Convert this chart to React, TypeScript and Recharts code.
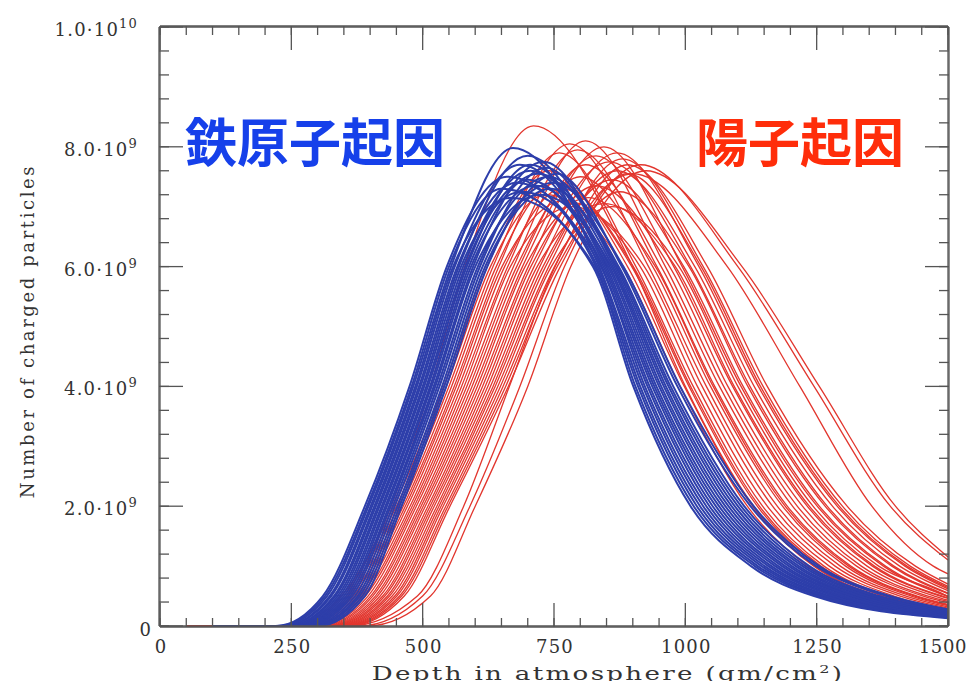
import React from 'react';
import { LineChart, Line, XAxis, YAxis } from 'recharts';

// Depth (gm/cm2) where each shower starts, and the particle levels (x 1e9)
const RED_START = 50;
const BLUE_START = 100;
const RISE_LEVELS = [0, 0.5, 2, 4, 6];
const FALL_LEVELS = [6, 4, 2, 1, 0.5];
const LAST_DEPTH = 1500;

const X_MAJOR = [0, 250, 500, 750, 1000, 1250, 1500];
const Y_MAJOR = [0, 2, 4, 6, 8, 10];
const X_MINOR = Array.from({ length: 31 }, (_, i) => i * 50);
const Y_MINOR = Array.from({ length: 26 }, (_, i) => (i * 4) / 10);

// iron showers (blue): rising crossings, peak, falling crossings, value at 1500
const BLUE_LIFT = [220, 224, 228, 233, 236, 241, 244, 248, 252, 256, 260, 264, 268, 272, 276, 281, 286, 290, 295, 300];
const BLUE_R05 = [310, 314, 318, 323, 326, 331, 334, 338, 342, 346, 350, 354, 358, 362, 366, 371, 376, 380, 385, 390];
const BLUE_R2 = [390, 394, 397, 401, 404, 408, 411, 415, 418, 422, 425, 429, 432, 436, 439, 443, 447, 452, 456, 460];
const BLUE_R4 = [475, 479, 482, 486, 489, 493, 496, 500, 503, 507, 510, 514, 517, 521, 524, 528, 532, 537, 541, 545];
const BLUE_R6 = [546, 550, 554, 558, 561, 566, 569, 573, 577, 581, 584, 588, 592, 596, 600, 605, 609, 614, 619, 623];
const BLUE_PEAK_D = [660, 650, 672, 668, 685, 678, 700, 688, 705, 700, 705, 720, 715, 730, 725, 740, 735, 750, 745, 755];
const BLUE_PEAK_N = [7.5, 7.3, 7.98, 7.15, 7.7, 7.4, 7.85, 7.25, 7.6, 7.45, 7.7, 7.55, 7.35, 7.75, 7.2, 7.5, 7.65, 7.4, 7.3, 7.55];
const BLUE_F6 = [830, 824, 836, 827, 841, 833, 850, 839, 856, 844, 847, 862, 853, 868, 859, 873, 865, 882, 870, 879];
const BLUE_F4 = [910, 901, 919, 905, 928, 914, 941, 923, 950, 932, 937, 959, 945, 968, 954, 977, 963, 990, 972, 985];
const BLUE_F2 = [1022, 1010, 1034, 1016, 1046, 1028, 1064, 1040, 1076, 1052, 1058, 1088, 1070, 1100, 1082, 1112, 1094, 1130, 1106, 1124];
const BLUE_F1 = [1138, 1125, 1151, 1132, 1164, 1145, 1184, 1158, 1197, 1171, 1177, 1210, 1190, 1223, 1203, 1236, 1216, 1255, 1229, 1249];
const BLUE_F05 = [1260, 1245, 1274, 1253, 1289, 1267, 1311, 1282, 1325, 1296, 1303, 1340, 1318, 1354, 1332, 1369, 1347, 1390, 1361, 1383];
const BLUE_END = [0.15, 0.13, 0.16, 0.14, 0.17, 0.15, 0.19, 0.16, 0.2, 0.18, 0.18, 0.22, 0.2, 0.24, 0.21, 0.26, 0.23, 0.28, 0.25, 0.27];

// proton showers (red): 26 main curves, the tallest one, then 3 late ones
const RED_LIFT = [260, 264, 268, 272, 276, 280, 284, 288, 292, 296, 300, 304, 308, 312, 316, 320, 324, 328, 332, 336, 340, 344, 348, 352, 356, 360, 245, 380, 395, 360];
const RED_R05 = [350, 355, 359, 364, 368, 373, 378, 382, 387, 391, 396, 401, 405, 410, 414, 419, 424, 428, 433, 437, 442, 447, 451, 456, 460, 465, 345, 500, 515, 490];
const RED_R2 = [445, 450, 454, 459, 463, 467, 471, 476, 480, 484, 488, 493, 497, 501, 505, 510, 514, 518, 522, 527, 531, 535, 539, 544, 548, 552, 440, 590, 600, 578];
const RED_R4 = [540, 545, 550, 555, 560, 564, 569, 574, 579, 584, 589, 594, 599, 604, 609, 614, 619, 624, 629, 634, 638, 643, 648, 653, 658, 663, 515, 685, 700, 665];
const RED_R6 = [623, 629, 634, 640, 645, 651, 656, 662, 667, 673, 679, 684, 690, 695, 701, 706, 712, 718, 723, 729, 734, 740, 745, 751, 756, 762, 580, 770, 782, 752];
const RED_PEAK_D = [740, 735, 760, 755, 780, 770, 765, 795, 785, 810, 800, 810, 830, 815, 845, 830, 855, 845, 870, 860, 870, 880, 860, 890, 875, 890, 711, 915, 925, 900];
const RED_PEAK_N = [7.6, 7.2, 7.9, 7.4, 8.05, 7.1, 7.3, 7.95, 7.0, 8.1, 7.5, 7.7, 7.85, 7.15, 8.0, 7.35, 7.75, 7.05, 7.9, 7.45, 7.6, 7.8, 7.0, 7.7, 7.25, 7.55, 8.35, 7.7, 7.6, 7.55];
const RED_F6 = [890, 882, 906, 898, 930, 914, 901, 946, 922, 962, 938, 954, 978, 943, 994, 970, 1010, 981, 1026, 997, 1018, 1034, 988, 1042, 1007, 1030, 900, 1100, 1108, 1080];
const RED_F4 = [998, 990, 1015, 1007, 1040, 1023, 1010, 1056, 1032, 1073, 1048, 1065, 1090, 1053, 1106, 1081, 1123, 1093, 1139, 1110, 1131, 1148, 1100, 1156, 1119, 1143, 1000, 1245, 1255, 1218];
const RED_F2 = [1128, 1118, 1147, 1137, 1175, 1156, 1141, 1194, 1166, 1213, 1185, 1204, 1232, 1190, 1251, 1223, 1270, 1236, 1289, 1255, 1280, 1299, 1243, 1308, 1266, 1293, 1130, 1390, 1400, 1355];
const RED_F1 = [1244, 1233, 1264, 1254, 1295, 1274, 1258, 1315, 1285, 1335, 1305, 1326, 1356, 1311, 1377, 1346, 1397, 1360, 1418, 1381, 1408, 1428, 1368, 1438, 1393, 1422, 1246, null, null, 1472];
const RED_F05 = [1365, 1353, 1386, 1375, 1420, 1397, 1380, 1441, 1409, 1462, 1430, 1453, 1485, 1437, null, 1474, null, 1489, null, null, null, null, 1498, null, null, null, 1367, null, null, null];
const RED_END = [0.24, 0.22, 0.27, 0.25, 0.32, 0.28, 0.26, 0.36, 0.3, 0.41, 0.34, 0.39, 0.46, 0.35, 0.49, 0.43, 0.55, 0.47, 0.62, 0.5, 0.59, 0.66, 0.49, 0.7, 0.54, 0.64, 0.24, 1.1, 1.15, 0.87];

const RED = '#e2362e';
const BLUE = '#2d3eaa';
const AXIS = '#555555';
const TEXT = '#333333';
const SERIF = '"DejaVu Serif", serif';

type Pt = { d: number; n: number };

function buildFamily(
  start: number, lift: number[], r05: number[], r2: number[], r4: number[], r6: number[],
  pkD: number[], pkN: number[], f6: number[], f4: number[], f2: number[],
  f1: (number | null)[], f05: (number | null)[], end: number[]
): Pt[][] {
  return lift.map((_, i) => {
    const rise = [lift[i], r05[i], r2[i], r4[i], r6[i]].map((d, k) => ({ d, n: RISE_LEVELS[k] }));
    const fall = [f6[i], f4[i], f2[i], f1[i], f05[i]]
      .map((d, k) => ({ d, n: FALL_LEVELS[k] }))
      .filter((p) => p.d !== null && (p.d as number) < LAST_DEPTH) as Pt[];
    return [{ d: start, n: 0 }, ...rise, { d: pkD[i], n: pkN[i] }, ...fall, { d: LAST_DEPTH, n: end[i] }];
  });
}

const blueCurves = buildFamily(BLUE_START, BLUE_LIFT, BLUE_R05, BLUE_R2, BLUE_R4, BLUE_R6,
  BLUE_PEAK_D, BLUE_PEAK_N, BLUE_F6, BLUE_F4, BLUE_F2, BLUE_F1, BLUE_F05, BLUE_END);
const redCurves = buildFamily(RED_START, RED_LIFT, RED_R05, RED_R2, RED_R4, RED_R6,
  RED_PEAK_D, RED_PEAK_N, RED_F6, RED_F4, RED_F2, RED_F1, RED_F05, RED_END);

// all eight axes share one domain; curves are spread over the four axis pairs
// because an axis with no series bound to it gets no ticks
const AXIS_PAIRS = [['b', 'l'], ['bm', 'lm'], ['t', 'r'], ['tm', 'rm']];

// tick lines point inwards (negative tickSize); labels sit 23px further out
const bottomLabel = (p: any) => {
  const x = Number(p.x), y = Number(p.y) + 23, v = p.payload.value;
  const last = v === 1500;
  return (
    <text x={last ? x + 19 : x + 1} y={y + 27} textAnchor={last ? 'end' : 'middle'} fontFamily={SERIF}
      fontSize={18} letterSpacing={last ? 0.6 : 1.2} fill={TEXT}>
      {v}
    </text>
  );
};

const leftLabel = (p: any) => {
  const x = Number(p.x) - 23, y = Number(p.y), v = p.payload.value;
  if (v === 0) {
    return <text x={x - 9} y={y + 10} textAnchor="end" fontFamily={SERIF} fontSize={18} fill={TEXT}>0</text>;
  }
  const exp = v >= 10 ? '10' : '9';
  const mant = v >= 10 ? '1.0' : v.toFixed(1);
  return (
    <text x={x - 22} y={y + 9} textAnchor="end" fontFamily={SERIF} fontSize={18} letterSpacing={1.2} fill={TEXT}>
      {mant}·10<tspan dy={-8} fontSize={13}>{exp}</tspan>
    </text>
  );
};

const noLabel = () => <g />;

const frame = { stroke: AXIS, strokeWidth: 1.3 };
const tickStroke = { stroke: AXIS, strokeWidth: 1.3 };

export default function App() {
  return (
    <div style={{ position: 'relative', width: 968, height: 681, marginBottom: -8 }}>
      <LineChart width={968} height={681} margin={{ top: 17, right: 26, bottom: 61, left: 150 }}>
        <XAxis xAxisId="bm" type="number" dataKey="d" domain={[0, 1500]} ticks={X_MINOR} interval={0}
          height={1} tickSize={-9} tickLine={tickStroke} tick={noLabel} axisLine={frame} />
        <XAxis xAxisId="b" type="number" dataKey="d" domain={[0, 1500]} ticks={X_MAJOR} interval={0}
          height={1} tickSize={-23} tickMargin={0} tickLine={tickStroke} tick={bottomLabel} axisLine={frame} />
        <XAxis xAxisId="tm" orientation="top" type="number" dataKey="d" domain={[0, 1500]} ticks={X_MINOR} interval={0}
          height={1} tickSize={-9} tickLine={tickStroke} tick={noLabel} axisLine={frame} />
        <XAxis xAxisId="t" orientation="top" type="number" dataKey="d" domain={[0, 1500]} ticks={X_MAJOR} interval={0}
          height={1} tickSize={-23} tickLine={tickStroke} tick={noLabel} axisLine={frame} />
        <YAxis yAxisId="lm" type="number" domain={[0, 10]} ticks={Y_MINOR} interval={0}
          width={1} tickSize={-10} tickLine={tickStroke} tick={noLabel} axisLine={frame} />
        <YAxis yAxisId="l" type="number" domain={[0, 10]} ticks={Y_MAJOR} interval={0}
          width={1} tickSize={-23} tickMargin={0} tickLine={tickStroke} tick={leftLabel} axisLine={frame} />
        <YAxis yAxisId="rm" orientation="right" type="number" domain={[0, 10]} ticks={Y_MINOR} interval={0}
          width={1} tickSize={-10} tickLine={tickStroke} tick={noLabel} axisLine={frame} />
        <YAxis yAxisId="r" orientation="right" type="number" domain={[0, 10]} ticks={Y_MAJOR} interval={0}
          width={1} tickSize={-23} tickLine={tickStroke} tick={noLabel} axisLine={frame} />

        {redCurves.map((pts, i) => (
          <Line key={`p${i}`} data={pts} dataKey="n" xAxisId={AXIS_PAIRS[i % 4][0]} yAxisId={AXIS_PAIRS[i % 4][1]}
            type="monotone" stroke={RED} strokeWidth={1.3} dot={false} activeDot={false} isAnimationActive={false} />
        ))}
        {blueCurves.map((pts, i) => (
          <Line key={`fe${i}`} data={pts} dataKey="n" xAxisId={AXIS_PAIRS[i % 4][0]} yAxisId={AXIS_PAIRS[i % 4][1]}
            type="monotone" stroke={BLUE} strokeWidth={2} dot={false} activeDot={false} isAnimationActive={false} />
        ))}
      </LineChart>

      <div style={{ position: 'absolute', left: 177, top: 106, fontFamily: '"Noto Sans CJK JP", sans-serif',
        fontWeight: 700, fontSize: 52, lineHeight: 1, color: '#1640ea', whiteSpace: 'nowrap' }}>
        鉄原子起因
      </div>
      <div style={{ position: 'absolute', left: 688, top: 106, fontFamily: '"Noto Sans CJK JP", sans-serif',
        fontWeight: 700, fontSize: 52, lineHeight: 1, color: '#ff2d0a', whiteSpace: 'nowrap' }}>
        陽子起因
      </div>

      <div style={{ position: 'absolute', left: 300, width: 600, top: 656, textAlign: 'center', fontFamily: SERIF,
        fontSize: 18, lineHeight: '20px', letterSpacing: 1.6, color: TEXT, whiteSpace: 'nowrap',
        transform: 'scaleX(1.45)', transformOrigin: 'center' }}>
        Depth in atmosphere (gm/cm<sup style={{ fontSize: 11, lineHeight: 0 }}>2</sup>)
      </div>
      <div style={{ position: 'absolute', left: -150, width: 340, top: 313, height: 20, textAlign: 'center',
        fontFamily: SERIF, fontSize: 18, lineHeight: '20px', letterSpacing: 2.6, color: TEXT, whiteSpace: 'nowrap',
        transform: 'rotate(-90deg)', transformOrigin: 'center' }}>
        Number of charged particles
      </div>
    </div>
  );
}
